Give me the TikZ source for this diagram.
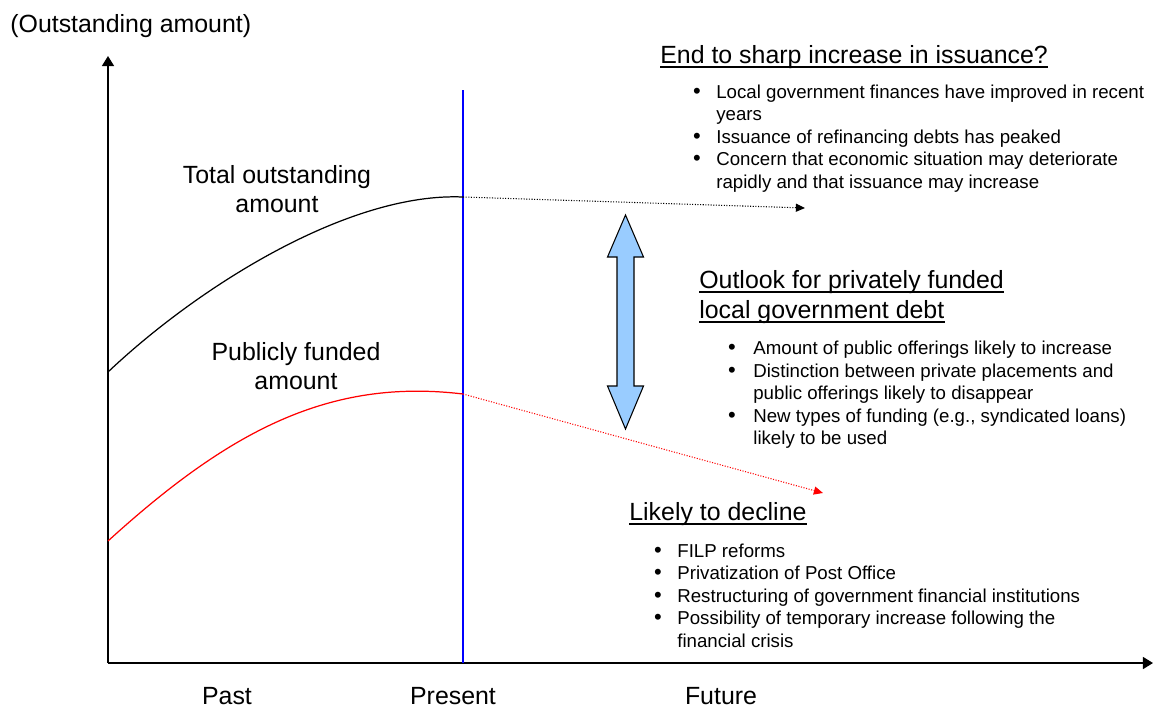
\documentclass[tikz,border=0pt]{standalone}
\usepackage{fontspec}
\setmainfont{Liberation Sans}
\usetikzlibrary{arrows.meta}

\tikzset{
  big/.style={font=\fontsize{14.17}{17}\selectfont, inner sep=0pt},
  heading/.style={big, anchor=base west},
  small/.style={font=\fontsize{10.63}{12.75}\selectfont, inner sep=0pt, anchor=base west},
  dot/.style={font=\fontsize{12.5}{13}\selectfont, inner sep=0pt, anchor=base},
  uline/.style={line width=0.85pt},
  axis/.style={line width=0.85pt, -{Triangle[length=5.7pt,width=6.8pt]}},
  trend/.style={line width=0.6pt, dash pattern=on 0.6pt off 0.9pt, -{Triangle[length=5.2pt,width=4.6pt]}},
}

\begin{document}
\begin{tikzpicture}[x=0.02cm, y=-0.02cm]
		\useasboundingbox (0,0) rectangle (1153,708);
		% axes
		\coordinate (o) at (108,663);
		\coordinate (ytip) at (108,56);
		\coordinate (xtip) at (1153,663);
		\draw[axis] (o) -- (ytip);
		\draw[axis] (o) -- (xtip);
		\node[big, anchor=base west] (yl) at (10,32) {(Outstanding amount)};
		% present line
		\coordinate (ptop) at (463,90);
		\coordinate (pbot) at (463,663);
		\draw[blue, line width=0.6pt] (ptop) -- (pbot);
		% curves up to now
		\coordinate (tstart) at (108,372);
		\coordinate (tnow) at (463,197);
		\coordinate (tend) at (805,208);
		\coordinate (pstart) at (108,541);
		\coordinate (pnow) at (463,394);
		\coordinate (pend) at (823,493);
		\draw[line width=0.7pt] (tstart) .. controls (200,285) and (350,192) .. (tnow);
		\draw[red, line width=0.7pt] (pstart) .. controls (230,430) and (330,378) .. (pnow);
		% outlook
		\draw[trend] (tnow) -- (tend);
		\draw[trend, red] (pnow) -- (pend);
		% gap arrow
		\draw[fill={rgb,255:red,153;green,204;blue,255}, line width=0.6pt]
			(625.5,215) -- (643.5,257) -- (634,257) -- (634,386) -- (643.5,386)
			-- (625.5,429) -- (607.5,386) -- (617,386) -- (617,257) -- (607.5,257) -- cycle;
		% curve labels
		\node[big, anchor=base] (tot1) at (277,183) {Total outstanding};
		\node[big, anchor=base] (tot2) at (277,212) {amount};
		\node[big, anchor=base] (pub1) at (296,360) {Publicly funded};
		\node[big, anchor=base] (pub2) at (296,389) {amount};
		% time labels
		\node[big, anchor=base] (past) at (227,704) {Past};
		\node[big, anchor=base] (pres) at (453,704) {Present};
		\node[big, anchor=base] (fut) at (721,704) {Future};
		% end to sharp increase
		\node[heading] (endh) at (660,63) {End to sharp increase in issuance?};
		\draw[uline] ([yshift=-2.3pt]endh.base west) -- ([yshift=-2.3pt]endh.base east);
		\foreach \yy in {98,143,165.5}
			\node[dot] at (697,\yy) {\textbullet};
		\foreach \yy/\txt [count=\i] in {98/Local government finances have improved in recent,
			120.5/years, 143/Issuance of refinancing debts has peaked,
			165.5/Concern that economic situation may deteriorate,
			188/rapidly and that issuance may increase}
			\node[small] (end-\i) at (716,\yy) {\txt};
		% private funding
		\node[heading] (outh1) at (699,288) {Outlook for privately funded};
		\node[heading] (outh2) at (699,318) {local government debt};
		\draw[uline] ([yshift=-2.3pt]outh1.base west) -- ([yshift=-2.3pt]outh1.base east);
		\draw[uline] ([yshift=-2.3pt]outh2.base west) -- ([yshift=-2.3pt]outh2.base east);
		\foreach \yy in {354,377,422}
			\node[dot] at (732,\yy) {\textbullet};
		\foreach \yy/\txt [count=\i] in {354/Amount of public offerings likely to increase,
			377/Distinction between private placements and,
			399/public offerings likely to disappear,
			422/{New types of funding (e.g., syndicated loans)},
			444/likely to be used}
			\node[small] (out-\i) at (753,\yy) {\txt};
		% decline
		\node[heading] (dech) at (629,520) {Likely to decline};
		\draw[uline] ([yshift=-2.3pt]dech.base west) -- ([yshift=-2.3pt]dech.base east);
		\foreach \yy in {557,579,602,624}
			\node[dot] at (658,\yy) {\textbullet};
		\foreach \yy/\txt [count=\i] in {557/FILP reforms,
			579/Privatization of Post Office,
			602/Restructuring of government financial institutions,
			624/Possibility of temporary increase following the,
			647/financial crisis}
			\node[small] (dec-\i) at (677,\yy) {\txt};
\end{tikzpicture}
\end{document}
